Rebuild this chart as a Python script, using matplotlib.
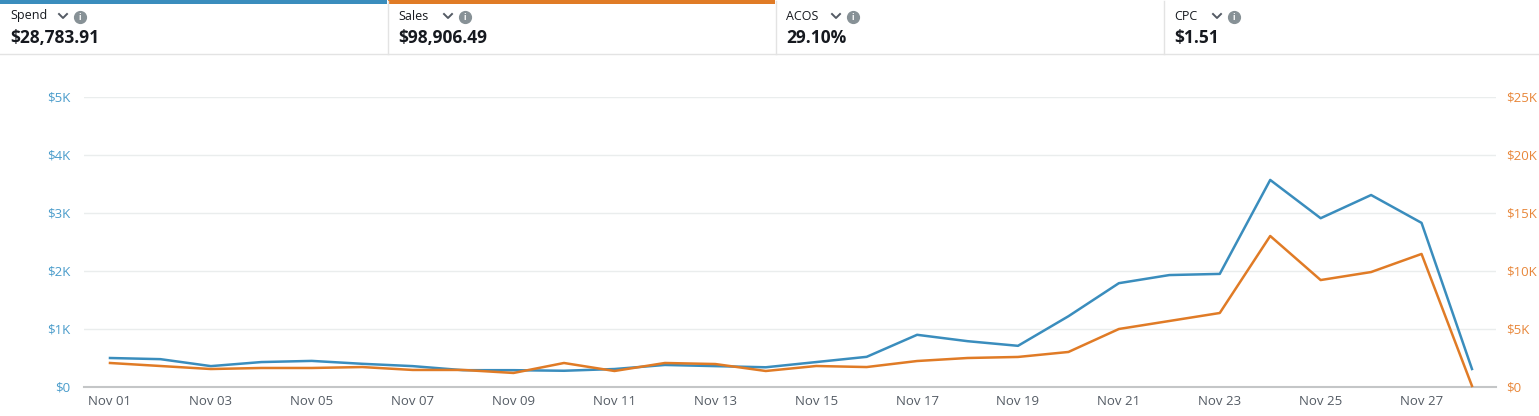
import matplotlib.pyplot as plt
from matplotlib.patches import Rectangle
from matplotlib.lines import Line2D
from matplotlib.ticker import FuncFormatter

plt.rcParams['font.family'] = ['Open Sans', 'DejaVu Sans']

# daily data, Nov 01 - Nov 28
days = [f"Nov {d:02d}" for d in range(1, 29)]
spend = [0.50, 0.48, 0.36, 0.43, 0.45, 0.40, 0.36, 0.29, 0.29, 0.28, 0.31, 0.38, 0.36, 0.34,
         0.43, 0.52, 0.90, 0.79, 0.71, 1.22, 1.79, 1.93, 1.95, 3.57, 2.91, 3.31, 2.83, 0.31]  # $K
sales = [2.07, 1.81, 1.55, 1.64, 1.64, 1.72, 1.47, 1.47, 1.21, 2.07, 1.38, 2.07, 1.98, 1.38,
         1.81, 1.72, 2.24, 2.50, 2.59, 3.02, 5.00, 5.69, 6.38, 13.02, 9.22, 9.91, 11.47, 0.09]  # $K

metrics = ["Spend", "Sales", "ACOS", "CPC"]
metric_values = ["$28,783.91", "$98,906.49", "29.10%", "$1.51"]
metric_bars = ["#3a8dbd", "#e07b26", None, None]

BLUE = "#3a8dbd"
ORANGE = "#e07b26"
W, H = 1539, 416

fig = plt.figure(figsize=(W / 100, H / 100), dpi=100)

def fx(px):
    return px / W

def fy(py):
    return 1 - py / H

# header cards
card_edges = [0, 388, 776, 1164, 1539]
for i, name in enumerate(metrics):
    x0, x1 = card_edges[i], card_edges[i + 1]
    if metric_bars[i]:
        fig.add_artist(Rectangle((fx(x0), fy(4)), fx(x1 - x0 - 1), 4 / H,
                                 transform=fig.transFigure, color=metric_bars[i], lw=0))
    if i > 0:
        fig.add_artist(Line2D([fx(x0), fx(x0)], [fy(1), fy(54)], transform=fig.transFigure,
                              color="#e3e3e3", lw=1))
    fig.text(fx(x0 + 10), fy(16), name, fontsize=9, color="#16191f", va="center", ha="left")
    # chevron + info icon
    tw = {"Spend": 38, "Sales": 35, "ACOS": 35, "CPC": 28}[name]
    cx = x0 + 10 + tw + 15
    fig.add_artist(Line2D([fx(cx - 4), fx(cx), fx(cx + 4)], [fy(14), fy(18), fy(14)],
                          transform=fig.transFigure, color="#545b64", lw=1.4))
    ix = cx + 17
    fig.add_artist(Line2D([fx(ix)], [fy(17)], transform=fig.transFigure, marker="o",
                          markersize=8.5, color="#879196", lw=0))
    fig.text(fx(ix), fy(17.5), "i", fontsize=6, color="white", fontweight="bold",
             ha="center", va="center")
    fig.text(fx(x0 + 10), fy(38), metric_values[i], fontsize=12.5, fontweight="bold",
             color="#16191f", va="center", ha="left")
fig.add_artist(Line2D([0, 1], [fy(54), fy(54)], transform=fig.transFigure, color="#e3e3e3", lw=1))

# chart
ax = fig.add_axes([fx(84), fy(387), fx(1496 - 84), (387 - 97) / H])
ax2 = ax.twinx()
x = list(range(len(days)))
ax.plot(x, spend, color=BLUE, lw=1.8, zorder=3, clip_on=False)
ax2.plot(x, sales, color=ORANGE, lw=1.8, zorder=3, clip_on=False)

ax.set_xlim(-0.515, 27.476)
ax.set_ylim(0, 5)
ax2.set_ylim(0, 25)
ax.set_yticks([0, 1, 2, 3, 4, 5])
ax2.set_yticks([0, 5, 10, 15, 20, 25])
ax.yaxis.set_major_formatter(FuncFormatter(lambda v, p: "$0" if v == 0 else f"${v:g}K"))
ax2.yaxis.set_major_formatter(FuncFormatter(lambda v, p: "$0" if v == 0 else f"${v:g}K"))
ax.set_xticks(x[::2])
ax.set_xticklabels(days[::2])

ax.grid(axis="y", color="#eaeded", lw=1)
ax.set_axisbelow(True)
for a in (ax, ax2):
    for s in a.spines.values():
        s.set_visible(False)
    a.tick_params(length=0)
ax.spines["bottom"].set_visible(True)
ax.spines["bottom"].set_color("#c4c6c7")
ax.spines["bottom"].set_linewidth(1.5)
ax.tick_params(axis="x", colors="#545b64", labelsize=9.5, pad=6)
ax.tick_params(axis="y", colors="#4a9ccb", labelsize=9.5, pad=10)
ax2.tick_params(axis="y", colors="#e8873a", labelsize=9.5, pad=7)

fig.savefig("out.png", dpi=100, facecolor="white")
